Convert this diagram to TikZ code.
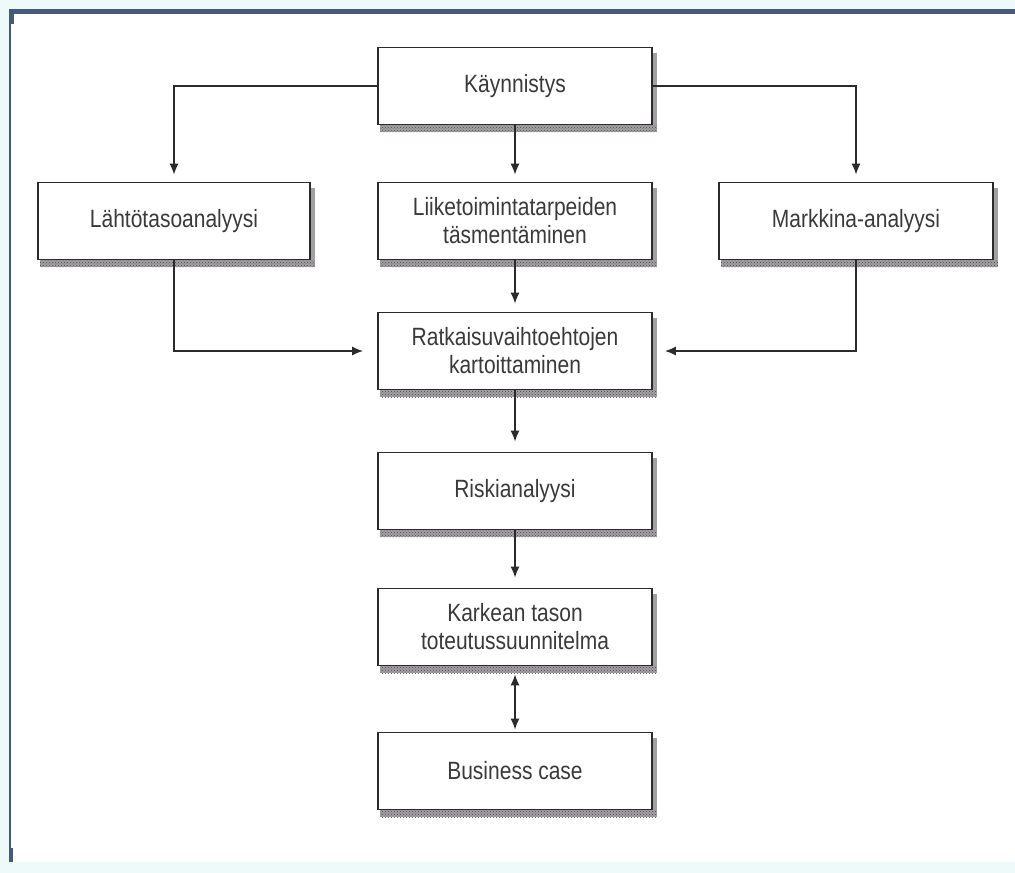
\documentclass[tikz,border=0pt]{standalone}
\usepackage{fontspec}
\setmainfont{Liberation Sans}[FakeStretch=0.84]
\usetikzlibrary{arrows.meta,patterns}

\definecolor{framebg}{HTML}{EEF9FA}
\definecolor{frameline}{HTML}{46597A}
\definecolor{ink}{HTML}{2B2B2B}
\definecolor{txt}{HTML}{3A3A3A}
\definecolor{shade}{HTML}{A3A0A3}

\tikzset{
  stage/.style={draw=ink, line width=1.7pt, fill=white, text=txt,
    minimum width=274pt, minimum height=77pt, inner sep=0pt, align=center,
    font=\fontsize{25}{28}\selectfont},
  wide/.style={minimum width=272pt},
  link/.style={draw=ink, line width=1.5pt},
  flow/.style={link, -{Latex[length=11pt,width=9pt]}},
  dropshade/.style={fill=shade}
}

\begin{document}
\begin{tikzpicture}[x=1pt,y=-1pt]
  % page and frame
  \fill[framebg] (0,0) rectangle (1015,873);
  \fill[white] (10,14) rectangle (1015,862);
  \fill[frameline] (9,9) rectangle (1015,14);
  \fill[frameline] (9,9) rectangle (14,24);
  \fill[frameline] (9,9) rectangle (11,862);
  \fill[frameline] (9,848) rectangle (13,862);
  \useasboundingbox (0,0) rectangle (1015,873);

  % boxes
  \node[stage] (start)    at (515,86)   {Käynnistys};
  \node[stage, wide] (lahto) at (174,221) {Lähtötasoanalyysi};
  \node[stage] (liike)    at (515,221)  {Liiketoimintatarpeiden\\täsmentäminen};
  \node[stage] (markkina) at (856,221)  {Markkina-analyysi};
  \node[stage] (ratk)     at (515,351)  {Ratkaisuvaihtoehtojen\\kartoittaminen};
  \node[stage] (riski)    at (515,491)  {Riskianalyysi};
  \node[stage] (karkea)   at (515,627)  {Karkean tason\\toteutussuunnitelma};
  \node[stage] (bcase)    at (515,771)  {Business case};

  % shadows under and beside each box
  \foreach \n in {start,lahto,liike,markkina,ratk,riski,karkea,bcase}{
    \fill[dropshade] ([xshift=3pt]\n.south west) rectangle ([xshift=4pt,yshift=-7pt]\n.south east);
    \fill[dropshade] ([yshift=-6pt]\n.north east) rectangle ([xshift=4pt]\n.south east);
    \fill[pattern=crosshatch dots, pattern color=gray!60!black] ([xshift=3pt]\n.south west) rectangle ([xshift=4pt,yshift=-7pt]\n.south east);
  }

  % connectors
  \coordinate (lturn) at (lahto.south |- ratk.center);
  \coordinate (rturn) at (markkina.south |- ratk.center);
  \draw[flow, shorten >=7pt] (start.west) -| (lahto.north);
  \draw[flow, shorten >=7pt] (start.east) -| (markkina.north);
  \draw[flow, shorten >=7pt] (start.south) -- (liike.north);
  \draw[flow, shorten >=8pt] (liike.south) -- (ratk.north);
  \draw[flow, shorten >=14pt] (lahto.south) -- (lturn) -- (ratk.west);
  \draw[flow, shorten >=12pt] (markkina.south) -- (rturn) -- (ratk.east);
  \draw[flow, shorten >=10pt] (ratk.south) -- (riski.north);
  \draw[flow, shorten >=10pt] (riski.south) -- (karkea.north);
  \draw[link, {Latex[length=11pt,width=9pt]}-{Latex[length=11pt,width=9pt]}, shorten <=8pt, shorten >=2pt] (karkea.south) -- (bcase.north);
\end{tikzpicture}
\end{document}
